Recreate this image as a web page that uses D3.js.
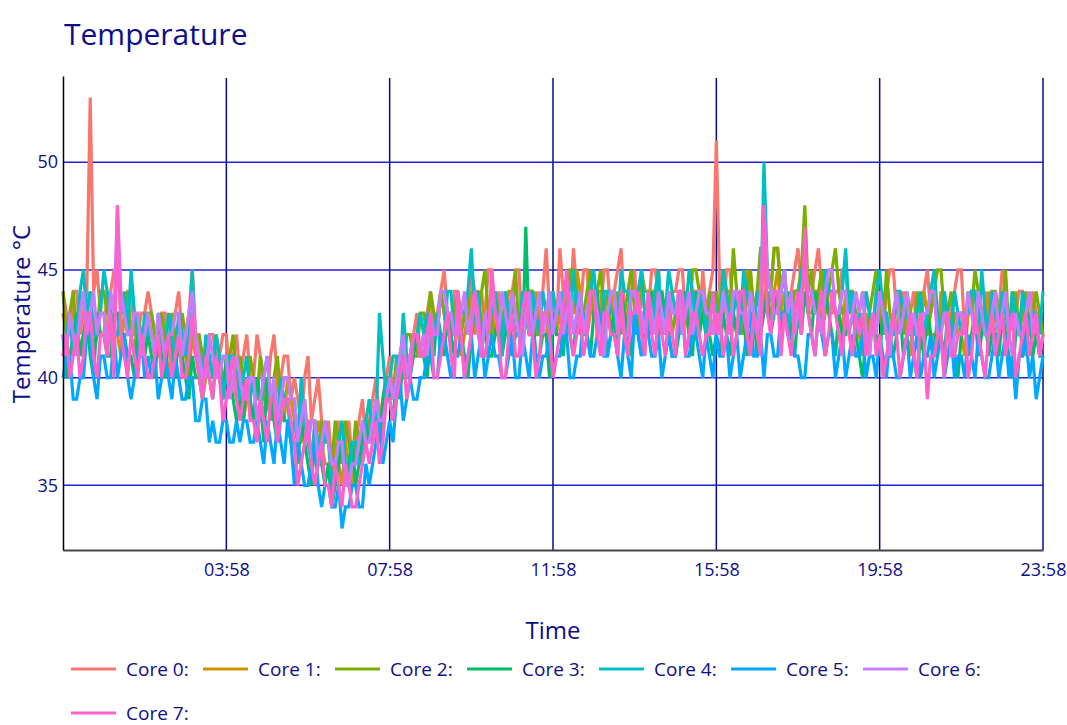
<!DOCTYPE html>
<html>
<head>
<meta charset="utf-8">
<script src="https://cdn.jsdelivr.net/npm/d3@7"></script>
<style>
  body { margin: 0; background: #fff; }
  text { font-family: "Open Sans", sans-serif; }
</style>
</head>
<body>
<svg id="vis"></svg>
<script>
// series names and colours (ggplot-like hue palette)
const coreNames = ["Core 0:", "Core 1:", "Core 2:", "Core 3:", "Core 4:", "Core 5:", "Core 6:", "Core 7:"];
const coreColors = ["#F8766D", "#CD9600", "#7CAE00", "#00BE67", "#00BFC4", "#00A9FF", "#C77CFF", "#FF61CC"];

// tick labels on the time axis
const timeTicks = ["03:58", "07:58", "11:58", "15:58", "19:58", "23:58"];
const tempTicks = [35, 40, 45, 50];

// one reading every 5 minutes, from 23:58 the day before to 23:58 (289 readings)
const core0 = [44,43,42,44,44,42,43,44,53,44,45,43,43,42,44,45,45,43,43,44,44,42,42,43,43,44,
  43,42,42,43,43,41,42,43,44,42,42,43,45,42, 42,40,41,42,42,41,41,42,42,40,41,42,
  40,41,42,40,40,42,41,39,39,41,42,40,40,41,41,39, 40,39,38,40,41,38,39,40,38,37,
  38,36,37,38,36,37,38,36,37,38,39,37, 38,39,40,38,39,40,41,39, 40,41,42,40,41,42,43,41,
  42,43,44,42,43,44,45,43,42,44,44,43,43,42,45,44,44,42,43,45,45,43,44,42,42,43,44,45,45,42,43,44,44,42,43,44,46,43,44,42,
  46,44,44,43,46,44,43,45,45,43,44,42,43,45,45,43,44,45,46,43,43,44,45,42,44,43,43,45,45,44,44,42,43,44,44,45,45,43,43,44,44,42,45,43,44,45,
  51,44,43,45,45,43,44,42,43,44,45,43,44,45,
  45,43,44,46,46,44,45,43,44,45,46,44,45,43,44,45,46,44,45,43,43,44,44,45,45,43,44,42,
  43,42,44,43,42,44,43,42,44,45,45,43,43,44,42,43,44,42,43,44,45,43,44,42,43,44,42,43,44,45,45,42,43,44,44,43,42,44,43,42,44,43,45,44,42,43,43,44,44,42,42,44,43,41,42];
const core1 = [43,42,42,43,43,41,42,43,44,42,43,42,42,44,43,42,42,41,43,42,42,43,41,42,42,43,
  42,41,41,42,42,40,41,42,42,41,41,40,42,41, 41,39,40,41,41,40,40,39,41,40,40,39,
  40,38,39,40,40,39,39,38,40,39,38,40,39,38,40,39, 38,37,37,38,38,36,37,38,37,36,
  36,35,37,36,35,37,36,35,37,36,38,37, 37,38,39,37,38,39,40,39, 40,41,41,40,41,42,42,41,
  42,41,43,42,42,44,43,42,42,43,43,41,42,43,44,42,43,44,42,43,43,42,42,41,43,44,44,43,42,41,43,42,42,44,43,42,42,43,43,42,
  43,42,44,43,43,45,44,42,42,43,43,44,44,42,43,44,42,43,44,42,43,44,44,43,43,42,42,44,44,43,43,42,44,43,43,44,42,43,44,42,43,44,44,43,43,42,
  44,42,43,44,44,43,42,43,43,45,44,43,43,42,
  44,43,43,44,45,43,44,42,43,44,44,45,45,43,43,44,44,42,43,44,44,43,43,42,44,43,43,42,
  42,41,43,42,42,43,43,44,42,41,43,42,44,43,42,41,43,42,42,44,43,42,42,41,44,43,42,43,43,42,42,41,43,44,42,43,43,42,44,43,42,41,43,42,42,44,43,42,42,41,43,42,42,43,43];
const core2 = [44,42,43,44,42,43,44,42,43,41,42,44,44,43,43,42,42,43,43,44,42,41,43,42,41,43,
  43,42,41,43,42,41,43,42,41,43,42,40,43,41, 42,41,40,41,41,42,41,40,40,41,42,40,
  41,40,39,41,40,39,41,40,39,38,40,41,39,40,40,39, 39,37,38,39,37,38,38,36,38,37,
  37,36,38,37,36,38,37,36,38,37,37,38, 38,37,39,38,38,40,40,39, 41,40,40,42,42,41,41,43,
  43,42,44,43,42,44,43,42,42,43,44,42,43,44,42,43,43,44,45,43,42,44,43,42,44,43,43,45,42,43,43,44,44,42,42,43,43,44,42,43,
  44,43,43,45,45,44,42,43,44,45,43,44,45,43,44,42,43,44,42,43,44,45,43,42,45,44,44,43,43,45,42,43,44,42,43,44,44,43,42,45,45,44,43,42,44,43,
  44,43,45,44,43,46,44,43,42,44,45,43,44,46,
  46,45,44,46,46,44,45,43,43,44,44,45,48,44,45,43,44,45,43,44,45,46,44,43,43,44,44,43,
  43,44,42,43,44,45,43,42,45,43,42,44,43,42,44,43,42,44,43,42,42,43,44,45,45,43,43,44,42,43,43,42,44,43,45,44,43,42,42,44,44,43,43,45,42,43,44,42,43,44,42,43,44,43,42];
const core3 = [42,40,41,42,43,41,42,43,41,40,43,42,42,41,41,43,43,42,42,41,41,40,42,41,41,42,
  41,40,42,41,40,42,41,40,42,41,40,39,41,40, 40,39,41,40,39,41,40,39,41,40,39,38,
  39,38,40,39,38,40,39,37,40,39,38,37,39,38,38,37, 37,36,38,37,36,35,37,36,36,35,
  36,34,35,36,37,35,36,37,35,36,37,38, 37,38,38,37,39,40,39,38, 40,39,41,40,40,41,42,41,
  41,40,42,41,43,42,41,43,42,41,43,42,41,40,42,43,44,42,42,41,41,42,43,41,42,43,41,42,42,41,47,42,43,41,41,42,42,40,43,42,
  42,41,43,42,41,43,44,42,42,41,43,44,42,43,41,42,43,41,44,43,42,41,43,42,41,43,42,44,43,42,44,43,42,41,41,42,43,44,42,41,44,42,43,42,42,41,
  42,41,43,42,41,43,42,44,43,41,42,43,41,42,
  43,44,42,43,44,42,43,44,42,41,43,42,44,43,42,44,43,42,44,43,42,41,43,42,42,44,43,42,
  41,40,42,41,43,42,41,43,42,41,41,42,43,41,42,43,41,40,42,41,43,42,41,43,42,41,43,42,41,40,42,43,41,42,43,41,42,43,41,42,42,41,43,42,41,40,42,43,41,42,43,41,42,41,41];
const core4 = [41,42,43,41,42,44,45,43,44,42,42,43,45,44,43,42,42,43,44,42,45,43,42,41,43,42,
  42,41,43,42,41,43,42,41,43,42,41,42,45,41, 41,40,42,41,40,42,41,39,40,41,41,40,
  39,40,41,39,40,38,38,40,41,39,39,38,40,39,39,37, 38,37,40,38,37,36,38,37,36,38,
  37,35,36,37,38,36,35,37,37,36,36,38, 39,37,38,43,41,39,40,41, 41,40,43,41,40,42,42,43,
  42,43,41,42,43,41,42,44,44,42,42,43,43,44,46,43,44,42,42,43,43,44,42,41,44,43,43,42,42,44,43,42,44,43,42,44,43,42,44,43,
  43,44,42,43,45,43,44,42,43,44,45,43,42,44,44,43,43,42,45,44,44,43,42,44,45,43,43,42,44,45,42,43,45,44,43,42,44,43,45,44,42,43,44,42,43,44,
  43,42,45,44,42,43,44,42,45,44,43,42,44,43,
  50,45,44,43,43,44,45,42,44,43,43,45,45,44,44,43,43,42,45,44,44,43,43,44,46,43,44,42,
  43,42,44,43,42,44,45,43,43,42,42,44,44,43,43,42,42,43,44,42,43,44,45,43,42,44,43,42,44,43,42,43,43,44,44,42,45,43,42,44,43,42,44,43,42,44,43,42,44,43,42,43,43,42,44];
const core5 = [40,41,41,39,39,40,40,42,42,40,39,41,41,40,40,42,40,41,42,40,39,40,41,42,40,41,
  40,41,39,40,41,40,39,41,40,39,39,40,40,38, 38,39,39,37,38,37,37,38,38,37,37,38,
  37,38,38,37,37,38,37,36,38,37,36,38,37,36,38,37, 35,37,36,35,35,36,37,35,34,35,
  35,34,34,35,33,34,34,35,35,34,34,36, 35,36,37,38,36,37,38,37, 39,40,38,39,40,39,39,40,
  40,41,41,40,40,42,42,41,40,41,41,42,40,41,42,40,41,42,40,41,42,41,41,40,40,41,42,40,40,42,41,40,42,41,40,41,41,42,40,41,
  41,42,42,40,40,41,41,43,42,41,41,42,43,41,41,42,42,41,40,42,41,40,43,42,41,43,42,41,41,42,40,41,42,41,41,43,43,41,41,42,42,41,40,42,41,40,
  42,41,41,42,40,41,42,40,41,42,43,41,41,42,
  40,42,42,41,41,43,43,42,42,41,41,40,40,42,42,41,43,42,41,42,42,40,41,42,40,41,42,41,
  41,42,40,41,41,40,42,41,40,42,41,40,40,41,42,40,41,42,40,41,41,42,40,41,42,40,41,42,40,41,41,40,42,41,40,42,41,40,40,41,42,40,41,42,40,41,39,41,41,42,40,41,39,40,41];
const core6 = [42,41,43,42,41,43,44,42,43,44,42,43,43,41,44,43,48,44,43,42,42,43,43,41,42,43,
  42,41,43,42,41,42,42,43,43,41,42,43,44,42, 41,40,40,42,41,40,40,41,41,39,40,41,
  40,39,39,40,40,38,39,40,41,39,40,38,39,40,40,39, 39,37,38,39,37,38,38,36,37,38,
  37,36,36,37,37,35,35,36,36,37,38,37, 37,38,39,38,38,39,40,39, 40,41,42,40,41,42,42,41,
  42,41,43,42,42,44,44,43,43,42,42,43,44,42,43,44,42,41,43,42,44,43,42,44,43,42,44,43,42,41,43,44,42,43,44,42,43,44,42,43,
  44,42,43,44,42,43,44,42,43,44,44,43,42,41,43,44,44,42,43,42,42,44,44,43,43,42,44,43,42,44,43,42,44,43,43,44,42,43,44,42,43,44,44,43,43,42,
  43,42,44,43,42,44,44,43,43,42,44,43,42,44,
  48,45,44,43,43,44,45,43,44,42,43,44,45,44,44,43,43,42,44,45,45,43,43,44,44,42,43,44,
  43,44,42,41,43,42,44,43,42,41,43,44,42,43,44,42,43,42,42,43,43,44,44,42,42,43,43,41,42,43,43,42,44,43,42,44,43,42,42,43,44,42,43,44,42,41,43,42,42,43,44,42,43,41,42];
const core7 = [41,42,40,41,42,40,41,43,43,41,40,42,42,41,43,40,48,42,41,40,42,41,40,42,41,40,
  40,41,42,40,41,42,40,41,42,40,40,41,43,41, 40,39,41,40,39,41,40,38,39,40,41,39,
  38,39,40,38,38,37,39,38,37,39,39,37,38,39,39,38, 37,35,36,37,38,36,35,36,37,35,
  35,34,36,35,34,36,35,34,34,35,36,37, 36,37,38,36,37,39,39,38, 39,40,41,39,40,42,42,41,
  41,42,43,40,40,41,42,43,41,40,44,42,40,41,42,44,43,41,41,42,45,43,42,40,40,42,43,41,41,43,44,42,42,40,41,43,43,42,40,41,
  42,43,45,42,41,42,43,41,42,44,44,42,41,43,43,42,42,41,44,42,41,43,43,44,42,41,44,42,41,43,42,41,43,42,41,44,44,41,42,43,43,42,41,42,42,44,
  42,43,41,42,43,41,42,44,44,42,41,43,42,41,
  48,43,42,44,44,41,43,42,41,43,44,42,47,43,42,41,43,44,41,42,44,43,42,41,43,42,41,43,
  42,43,41,42,43,41,42,40,41,42,43,42,40,41,42,43,41,40,43,42,39,41,41,42,42,40,43,41,41,42,42,43,40,41,43,42,41,40,42,43,41,42,43,41,42,43,40,41,42,43,41,42,43,41,42];

const coreSeries = [core0, core1, core2, core3, core4, core5, core6, core7];

const width = 1067, height = 725;
const margin = {top: 78, right: 24, bottom: 175, left: 63};
const textColor = "#0d0d8a";

const svg = d3.select("#vis").attr("width", width).attr("height", height);

// time axis runs from 23:58 on the previous day to 23:58
const start = new Date(2021, 0, 1, 23, 58);
const end = new Date(2021, 0, 2, 23, 58);
const stepMinutes = 5;
const timeOf = i => d3.timeMinute.offset(start, i * stepMinutes);

const x = d3.scaleTime()
    .domain([start, end])
    .range([margin.left, width - margin.right]);

const y = d3.scaleLinear()
    .domain([32, 54])
    .range([height - margin.bottom, margin.top - 2]);

const parseTick = d3.timeParse("%H:%M");
const tickDates = timeTicks.map(t => {
    const p = parseTick(t);
    return new Date(2021, 0, 2, p.getHours(), p.getMinutes());
});

// grid
svg.append("g")
    .selectAll("line")
    .data(tempTicks)
    .join("line")
    .attr("x1", margin.left).attr("x2", width - margin.right)
    .attr("y1", d => y(d)).attr("y2", d => y(d))
    .attr("stroke", "#2222d6").attr("stroke-width", 1.5);

svg.append("g")
    .selectAll("line")
    .data(tickDates)
    .join("line")
    .attr("x1", d => x(d)).attr("x2", d => x(d))
    .attr("y1", margin.top).attr("y2", height - margin.bottom)
    .attr("stroke", "#0a0a8c").attr("stroke-width", 1.5);

// lines
const line = d3.line()
    .x((d, i) => x(timeOf(i)))
    .y(d => y(d));

svg.append("g")
    .selectAll("path")
    .data(coreSeries)
    .join("path")
    .attr("d", d => line(d))
    .attr("fill", "none")
    .attr("stroke", (d, i) => coreColors[i])
    .attr("stroke-width", 3.2);

// axes
const xAxis = svg.append("g")
    .attr("transform", "translate(0," + (height - margin.bottom) + ")")
    .call(d3.axisBottom(x).tickValues(tickDates).tickFormat(d3.timeFormat("%H:%M")).tickSize(0).tickPadding(13));
xAxis.select(".domain").attr("stroke", "#444").attr("stroke-width", 2);
xAxis.selectAll("text").attr("fill", textColor).style("font-size", "18px");

const yAxis = svg.append("g")
    .attr("transform", "translate(" + margin.left + ",0)")
    .call(d3.axisLeft(y).tickValues(tempTicks).tickSize(0).tickPadding(5));
yAxis.select(".domain").attr("stroke", "#000").attr("stroke-width", 1.5);
yAxis.selectAll("text").attr("fill", textColor).style("font-size", "18px");

// titles
svg.append("text")
    .attr("x", 64).attr("y", 45)
    .attr("fill", textColor)
    .style("font-size", "30px")
    .text("Temperature");

svg.append("text")
    .attr("x", (margin.left + width - margin.right) / 2).attr("y", 639)
    .attr("text-anchor", "middle")
    .attr("fill", textColor)
    .style("font-size", "24px")
    .text("Time");

svg.append("text")
    .attr("transform", "translate(30," + ((margin.top + height - margin.bottom) / 2) + ") rotate(-90)")
    .attr("text-anchor", "middle")
    .attr("fill", textColor)
    .style("font-size", "24px")
    .text("Temperature °C");

// legend, seven items in the first row
const legend = svg.append("g")
    .selectAll("g")
    .data(coreNames)
    .join("g")
    .attr("transform", (d, i) => "translate(" + (71 + (i % 7) * 132) + "," + (669 + Math.floor(i / 7) * 44) + ")");

legend.append("line")
    .attr("x1", 0).attr("x2", 45)
    .attr("stroke", (d, i) => coreColors[i])
    .attr("stroke-width", 3);

legend.append("text")
    .attr("x", 55).attr("dy", "0.35em")
    .attr("fill", textColor)
    .style("font-size", "19px")
    .text(d => d);
</script>
</body>
</html>
